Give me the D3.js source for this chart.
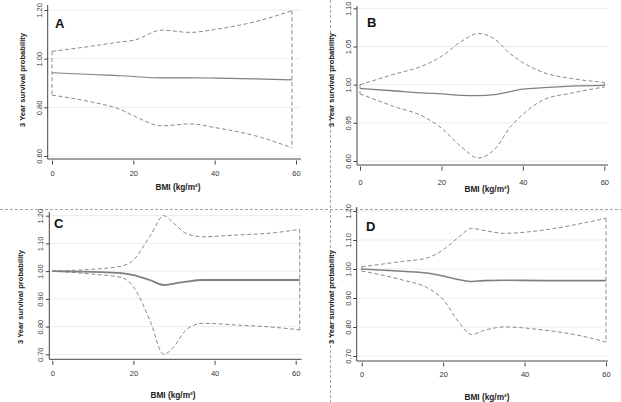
<!DOCTYPE html>
<html><head><meta charset="utf-8">
<script src="https://cdn.jsdelivr.net/npm/d3@7"></script>
<style>body{margin:0;background:#fff}svg{display:block;font-family:"Liberation Sans",Arial,sans-serif}</style>
</head><body><svg id="c" width="621" height="402"></svg>
<script>
// ---- data ----
const xTicks = [0, 20, 40, 60];
const xTickLabels = ["0", "20", "40", "60"];

const bmiA   = [0, 10, 17, 20, 27, 34, 40, 50, 59];
const meanA  = [0.942, 0.935, 0.930, 0.927, 0.921, 0.921, 0.920, 0.917, 0.913];
const upperA = [1.030, 1.052, 1.069, 1.075, 1.117, 1.108, 1.120, 1.152, 1.197];
const lowerA = [0.850, 0.821, 0.790, 0.766, 0.724, 0.732, 0.717, 0.683, 0.634];
const yTicksA = [0.6, 0.8, 1.0, 1.2];
const yTickLabelsA = ["0.60", "0.80", "1.00", "1.20"];

const bmiB   = [0, 8, 16, 20, 25, 29, 33, 37, 40, 45, 52, 60];
const meanB  = [0.995, 0.992, 0.989, 0.988, 0.986, 0.9855, 0.987, 0.991, 0.994, 0.996, 0.998, 0.999];
const upperB = [1.000, 1.013, 1.026, 1.037, 1.057, 1.067, 1.060, 1.040, 1.029, 1.016, 1.008, 1.003];
const lowerB = [0.988, 0.972, 0.957, 0.943, 0.918, 0.904, 0.915, 0.945, 0.961, 0.980, 0.989, 0.997];
const yTicksB = [0.90, 0.95, 1.00, 1.05, 1.10];
const yTickLabelsB = ["0.60", "0.95", "1.00", "1.05", "1.10"];

const bmiC   = [0, 10, 17, 20, 24, 27.5, 30, 33, 37, 45, 55, 61];
const meanC  = [1.000, 0.997, 0.993, 0.986, 0.968, 0.950, 0.955, 0.962, 0.968, 0.968, 0.968, 0.968];
const upperC = [1.000, 1.007, 1.018, 1.040, 1.124, 1.200, 1.172, 1.136, 1.124, 1.130, 1.139, 1.151];
const lowerC = [1.000, 0.989, 0.977, 0.944, 0.824, 0.700, 0.728, 0.788, 0.812, 0.806, 0.797, 0.788];
const yTicksC = [0.7, 0.8, 0.9, 1.0, 1.1, 1.2];
const yTickLabelsC = ["0.70", "0.80", "0.90", "1.00", "1.10", "1.20"];

const bmiD   = [0, 10, 16, 20, 24, 27, 30, 35, 45, 55, 60];
const meanD  = [1.000, 0.992, 0.986, 0.976, 0.963, 0.957, 0.960, 0.961, 0.960, 0.960, 0.960];
const upperD = [1.008, 1.026, 1.038, 1.066, 1.112, 1.140, 1.133, 1.123, 1.135, 1.160, 1.175];
const lowerD = [0.993, 0.962, 0.936, 0.895, 0.814, 0.774, 0.788, 0.800, 0.789, 0.766, 0.748];
const yTicksD = [0.7, 0.8, 0.9, 1.0, 1.1, 1.2];
const yTickLabelsD = ["0.70", "0.80", "0.90", "1.00", "1.10", "1.20"];

const panelLetters = ["A", "B", "C", "D"];
const yTitle = "3 Year survival probability";
const xTitle = "BMI (kg/m²)";

// ---- layout ----
const panels = [
  {letter: panelLetters[0], x: bmiA, mean: meanA, up: upperA, lo: lowerA, yt: yTicksA, ytl: yTickLabelsA,
   yDom: [0.6, 1.2], yRng: [156, 10], xRng: [52, 296], axX: 47.7, axY: 159, axTop: 5, axRight: 301,
   tickLblY: 176, titleX: 178, titleY: 190, ytX: 22, ytY: 80, letX: 55, letY: 28, gridR: 301, mw: 1.1},
  {letter: panelLetters[1], x: bmiB, mean: meanB, up: upperB, lo: lowerB, yt: yTicksB, ytl: yTickLabelsB,
   yDom: [0.9, 1.1], yRng: [161, 8.3], xRng: [360, 604.3], axX: 357, axY: 165, axTop: 6, axRight: 608,
   tickLblY: 185, titleX: 487, titleY: 192, ytX: 331.5, ytY: 80, letX: 367, letY: 27, gridR: 608, mw: 1.3},
  {letter: panelLetters[2], x: bmiC, mean: meanC, up: upperC, lo: lowerC, yt: yTicksC, ytl: yTickLabelsC,
   yDom: [0.7, 1.2], yRng: [354.3, 215.7], xRng: [52.3, 295.7], axX: 49.3, axY: 359.3, axTop: 212, axRight: 301.5,
   tickLblY: 376, titleX: 173, titleY: 398, ytX: 20.5, ytY: 297, letX: 54, letY: 228, gridR: 301.5, mw: 1.8},
  {letter: panelLetters[3], x: bmiD, mean: meanD, up: upperD, lo: lowerD, yt: yTicksD, ytl: yTickLabelsD,
   yDom: [0.7, 1.2], yRng: [356, 211], xRng: [361.7, 606], axX: 356.7, axY: 361, axTop: 207, axRight: 608,
   tickLblY: 377, titleX: 487, titleY: 399.5, ytX: 331, ytY: 297, letX: 366, letY: 231, gridR: 608, mw: 1.6}
];

const svg = d3.select("#c");

// dashed dividers
svg.append("line").attr("x1", 0).attr("x2", 621).attr("y1", 209.5).attr("y2", 209.5)
  .attr("stroke", "#8a8a8a").attr("stroke-width", 0.8).attr("stroke-dasharray", "3,2");
svg.append("line").attr("x1", 330.5).attr("x2", 330.5).attr("y1", 0).attr("y2", 402)
  .attr("stroke", "#8a8a8a").attr("stroke-width", 0.8).attr("stroke-dasharray", "3,2");

panels.forEach(p => {
  const g = svg.append("g");
  const xs = d3.scaleLinear().domain([0, 60]).range(p.xRng);
  const ys = d3.scaleLinear().domain(p.yDom).range(p.yRng);

  // gridlines
  g.selectAll(".grid").data(p.yt).join("line")
    .attr("x1", p.axX).attr("x2", p.gridR)
    .attr("y1", d => ys(d)).attr("y2", d => ys(d))
    .attr("stroke", "#ececec").attr("stroke-width", 1);

  // y axis
  const yAxis = d3.axisLeft(ys).tickValues(p.yt).tickSize(3.5).tickPadding(3)
    .tickFormat((d, i) => p.ytl[i]);
  const ya = g.append("g").attr("transform", `translate(${p.axX},0)`).call(yAxis);
  ya.select(".domain").remove();
  ya.selectAll(".tick line").attr("stroke", "#444");
  ya.selectAll(".tick text").attr("transform", "rotate(-90)")
    .attr("x", 0).attr("y", -6).attr("dy", 0).attr("text-anchor", "middle")
    .attr("font-size", 7.5).attr("fill", "#333").attr("font-family", "Liberation Sans, Arial, sans-serif");
  g.append("line").attr("x1", p.axX).attr("x2", p.axX).attr("y1", p.axTop).attr("y2", p.axY)
    .attr("stroke", "#444").attr("stroke-width", 1);

  // x axis
  g.append("line").attr("x1", p.axX).attr("x2", p.axRight).attr("y1", p.axY).attr("y2", p.axY)
    .attr("stroke", "#444").attr("stroke-width", 1);
  const xAxis = d3.axisBottom(xs).tickValues(xTicks).tickSize(4).tickPadding(0)
    .tickFormat((d, i) => xTickLabels[i]);
  const xa = g.append("g").attr("transform", `translate(0,${p.axY + 1.5})`).call(xAxis);
  xa.select(".domain").remove();
  xa.selectAll(".tick line").attr("stroke", "#444");
  xa.selectAll(".tick text").attr("y", p.tickLblY - p.axY - 1.5).attr("dy", 0)
    .attr("font-size", 7.5).attr("fill", "#333").attr("font-family", "Liberation Sans, Arial, sans-serif");

  // titles
  g.append("text").attr("x", p.titleX).attr("y", p.titleY).attr("text-anchor", "middle")
    .attr("font-size", 8.3).attr("font-weight", "bold").attr("fill", "#222").text(xTitle);
  g.append("text").attr("transform", `translate(${p.ytX},${p.ytY}) rotate(-90)`)
    .attr("text-anchor", "middle").attr("dy", "0.35em")
    .attr("font-size", 7.6).attr("font-weight", "bold").attr("fill", "#222").text(yTitle);
  g.append("text").attr("x", p.letX).attr("y", p.letY)
    .attr("font-size", 13).attr("font-weight", "bold").attr("fill", "#111").text(p.letter);

  // lines
  const pts = k => p.x.map((v, i) => [v, p[k][i]]);
  const line = d3.line().x(d => xs(d[0])).y(d => ys(d[1])).curve(d3.curveMonotoneX);
  ["up", "lo"].forEach(k => {
    g.append("path").attr("d", line(pts(k))).attr("fill", "none")
      .attr("stroke", "#8a8a8a").attr("stroke-width", 1).attr("stroke-dasharray", "4,2.5");
  });
  const n = p.x.length - 1;
  [0, n].forEach(i => {
    g.append("line").attr("x1", xs(p.x[i])).attr("x2", xs(p.x[i]))
      .attr("y1", ys(p.up[i])).attr("y2", ys(p.lo[i]))
      .attr("stroke", "#8a8a8a").attr("stroke-width", 1).attr("stroke-dasharray", "4,2.5");
  });
  g.append("path").attr("d", line(pts("mean"))).attr("fill", "none")
    .attr("stroke", "#808080").attr("stroke-width", p.mw);
});
</script></body></html>
